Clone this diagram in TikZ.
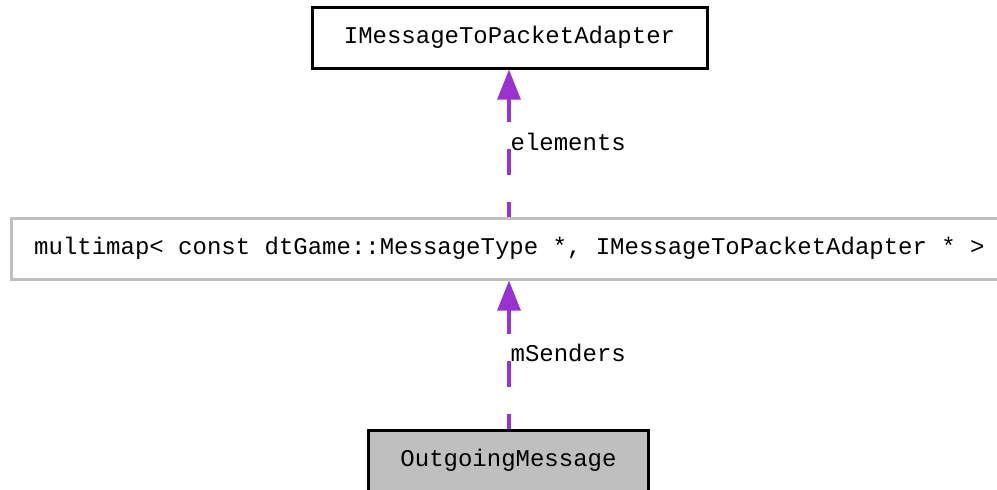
\documentclass[tikz,border=0pt]{standalone}
\usepackage{fontspec}
\setmonofont{Liberation Mono}
\usetikzlibrary{arrows.meta}
\definecolor{edgepurple}{HTML}{9A32CD}
\definecolor{boxgray}{HTML}{BFBFBF}
\tikzset{
  cls/.style={draw=black, line width=3pt, rectangle, inner sep=0pt, font=\ttfamily\fontsize{24}{28}\selectfont},
  edge/.style={draw=edgepurple, line width=3.2pt, dash pattern=on 26pt off 27pt, dash phase=11pt,
    -{Triangle[width=23pt,length=30pt]}},
  lbl/.style={inner sep=0pt, anchor=base west, font=\ttfamily\fontsize{24}{28}\selectfont}
}
\begin{document}
\begin{tikzpicture}[x=1pt,y=-1pt]
\useasboundingbox (0,0) rectangle (997,490);
\node[cls, minimum width=395pt, minimum height=61pt] (top) at (509.5,37.5) {IMessageToPacketAdapter};
\node[cls, draw=boxgray, minimum width=997pt, minimum height=61pt] (mid) at (509.5,248.5) {multimap< const dtGame::MessageType *, IMessageToPacketAdapter * >};
\node[cls, fill=boxgray, minimum width=280pt, minimum height=61pt] (bot) at (508.5,460.5) {OutgoingMessage};
\draw[edge] (mid.north -| 509,0) -- node[lbl, pos=0.447] {elements} (top.south -| 509,0);
\draw[edge] (bot.north -| 509,0) -- node[lbl, pos=0.453] {mSenders} (mid.south -| 509,0);
\end{tikzpicture}
\end{document}
